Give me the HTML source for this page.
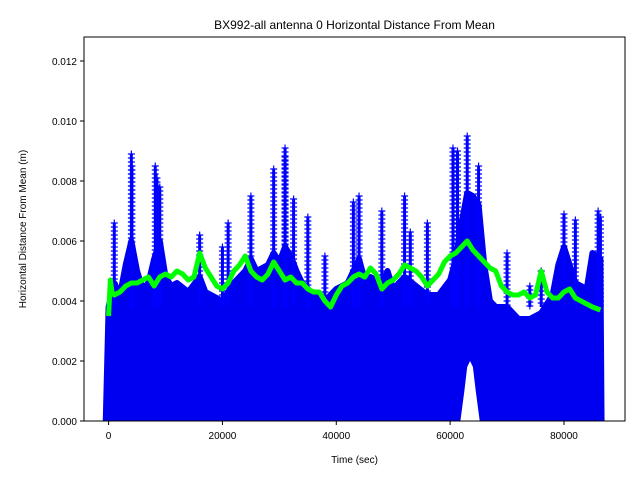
<!DOCTYPE html>
<html><head><meta charset="utf-8"><style>
body{margin:0;background:#fff;}
svg{display:block;font-family:"Liberation Sans","DejaVu Sans",sans-serif;}
</style></head><body>
<svg id="chart" width="640" height="480"></svg>
<script>
const envX=[0,1000,2000,3000,4000,5000,6000,7000,8000,9000,10000,11000,12000,14000,16000,17000,18000,20000,22000,24000,25000,26000,28000,29000,30000,31000,32000,33000,34000,36000,38000,40000,42000,43000,44000,45000,46000,48000,49000,50000,52000,54000,56000,58000,60000,61000,62000,63000,64000,65000,66000,67000,68000,70000,72000,74000,76000,78000,79000,80000,81000,82000,84000,85000,86400];
const envY=[0.0038,0.0046,0.0042,0.0052,0.0060,0.0050,0.0044,0.0046,0.0054,0.0060,0.0048,0.0045,0.0046,0.0043,0.0048,0.0043,0.0042,0.0040,0.0046,0.0050,0.0054,0.0050,0.0052,0.0056,0.0053,0.0058,0.0055,0.0050,0.0046,0.0042,0.0040,0.0044,0.0046,0.0050,0.0054,0.0047,0.0048,0.0046,0.0050,0.0044,0.0048,0.0045,0.0042,0.0042,0.0047,0.0054,0.0066,0.0076,0.0075,0.0072,0.0052,0.0040,0.0038,0.0038,0.0034,0.0034,0.0036,0.0042,0.0052,0.0058,0.0052,0.0046,0.0044,0.0056,0.0054];
const gapX=[61800,62500,63000,63500,64000,64500,65200];
const gapY=[0.0000,0.0010,0.0018,0.0020,0.0018,0.0010,0.0000];
const spikeX=[1000,4000,4100,8200,8500,9000,16000,21000,25000,29000,31000,31000,32500,35000,43000,44000,48000,52000,56000,60500,61300,63000,65000,70000,80000,82000,86000,86400,20000,38000,53000,74000,76000];
const spikeY=[0.0066,0.0089,0.0085,0.0085,0.0081,0.0078,0.0062,0.0066,0.0075,0.0084,0.0091,0.0088,0.0074,0.0068,0.0073,0.0075,0.0070,0.0075,0.0066,0.0091,0.0090,0.0095,0.0085,0.0056,0.0069,0.0067,0.0070,0.0068,0.0058,0.0055,0.0063,0.0045,0.0050];
const lineX=[0,300,600,1000,2000,3000,4000,5000,6000,7000,8000,9000,10000,11000,12000,13000,14000,15000,16000,17000,18000,19000,20000,21000,22000,23000,24000,25000,26000,27000,28000,29000,30000,31000,32000,33000,34000,35000,36000,37000,38000,39000,40000,41000,42000,43000,44000,45000,46000,47000,48000,49000,50000,51000,52000,53000,54000,55000,56000,57000,58000,59000,60000,61000,62000,63000,64000,65000,66000,67000,68000,69000,70000,71000,72000,73000,74000,75000,76000,77000,78000,79000,80000,81000,82000,83000,84000,85000,86400];
const lineY=[0.0035,0.0047,0.0043,0.0042,0.0043,0.0045,0.0046,0.0046,0.0047,0.0048,0.0045,0.0048,0.0049,0.0048,0.0050,0.0049,0.0047,0.0048,0.0056,0.0051,0.0048,0.0045,0.0044,0.0046,0.0050,0.0052,0.0055,0.0050,0.0048,0.0047,0.0049,0.0053,0.0050,0.0047,0.0048,0.0046,0.0046,0.0044,0.0043,0.0043,0.0040,0.0038,0.0042,0.0045,0.0046,0.0048,0.0049,0.0048,0.0051,0.0049,0.0044,0.0046,0.0047,0.0049,0.0052,0.0051,0.0050,0.0048,0.0045,0.0047,0.0049,0.0053,0.0055,0.0056,0.0058,0.0060,0.0057,0.0055,0.0053,0.0051,0.0050,0.0045,0.0043,0.0042,0.0042,0.0043,0.0041,0.0042,0.0050,0.0043,0.0041,0.0041,0.0043,0.0044,0.0041,0.0040,0.0039,0.0038,0.0037];
const xTicks=[0,20000,40000,60000,80000];
const yTicks=[0,0.002,0.004,0.006,0.008,0.010,0.012];
const yTickLabels=["0.000","0.002","0.004","0.006","0.008","0.010","0.012"];

const L=84,R=625,T=37,B=421;
const xmin=-4320,xmax=90720,ymin=0,ymax=0.0128;
const sx=v=>L+(v-xmin)/(xmax-xmin)*(R-L);
const sy=v=>B-(v-ymin)/(ymax-ymin)*(B-T);
const NS="http://www.w3.org/2000/svg";
const svg=document.getElementById('chart');
function mk(t,a,p){const e=document.createElementNS(NS,t);for(const k in a)e.setAttribute(k,a[k]);(p||svg).appendChild(e);return e;}

const clip=mk('clipPath',{id:'pc'});mk('rect',{x:L,y:T,width:R-L,height:B-T},clip);
const g=mk('g',{'clip-path':'url(#pc)'});



let d='M'+sx(envX[0]-500)+','+sy(0);
for(let i=0;i<envX.length;i++)d+=' L'+sx(envX[i])+','+sy(envY[i]);
d+=' L'+sx(envX[envX.length-1]+200)+','+sy(0)+' Z';
const env=mk('path',{d:d,fill:'#0000f0',stroke:'#0000f0','stroke-width':6,'stroke-linejoin':'round'},g);



let gd='M'+sx(gapX[0])+','+sy(gapY[0]);
for(let i=1;i<gapX.length;i++)gd+=' L'+sx(gapX[i])+','+sy(gapY[i]);
gd+=' Z';
const gap=mk('path',{d:gd,fill:'#fff'},g);



for(let i=0;i<spikeX.length;i++){
  const x=sx(spikeX[i]);
  const top=sy(spikeY[i]);
  const m=mk('path',{d:'M'+x+','+top+' L'+x+','+sy(0.0038),stroke:'#0000ff','stroke-width':3,fill:'none'},g);
  
  
  for(let y=top;y<sy(0.0038);y+=4){
    const p=mk('path',{d:`M${x-3.5},${y}H${x+3.5}M${x},${y-3.5}V${y+3.5}`,stroke:'#0000ff','stroke-width':1.2},g);
    
    
  }
}

let ld='';
for(let i=0;i<lineX.length;i++)ld+=(i?' L':'M')+sx(lineX[i])+','+sy(lineY[i]);
const ln=mk('path',{d:ld,fill:'none',stroke:'#00ff00','stroke-width':5,'stroke-linejoin':'round'},g);



const fr=mk('rect',{x:L,y:T,width:R-L,height:B-T,fill:'none',stroke:'#000','stroke-width':1});



for(const v of xTicks){
  const x=sx(v);
  const t=mk('line',{x1:x,x2:x,y1:B,y2:B+4,stroke:'#000'});
  
  
  const tx=mk('text',{x:x,y:B+18,'text-anchor':'middle','font-size':10});
  tx.textContent=String(v);
  
  
}
yTicks.forEach((v,i)=>{
  const y=sy(v);
  const t=mk('line',{x1:L-4,x2:L,y1:y,y2:y,stroke:'#000'});
  
  
  const tx=mk('text',{x:L-7,y:y+4,'text-anchor':'end','font-size':10});
  tx.textContent=yTickLabels[i];
  
  
});
const title=mk('text',{x:(L+R)/2,y:29,'text-anchor':'middle','font-size':12});
title.textContent='BX992-all antenna 0 Horizontal Distance From Mean';


const xl=mk('text',{x:(L+R)/2,y:463,'text-anchor':'middle','font-size':10});
xl.textContent='Time (sec)';


const yl=mk('text',{x:0,y:0,'text-anchor':'middle','font-size':10,transform:`translate(26,${(T+B)/2}) rotate(-90)`});
yl.textContent='Horizontal Distance From Mean (m)';


</script>
</body></html>
